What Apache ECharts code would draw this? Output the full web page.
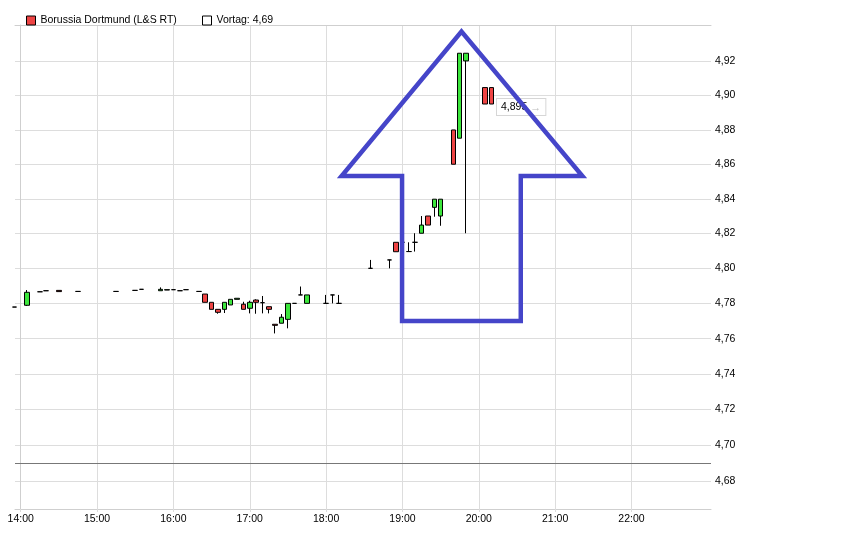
<!DOCTYPE html>
<html><head><meta charset="utf-8">
<script src="https://cdn.jsdelivr.net/npm/echarts@6/dist/echarts.min.js"></script>
<style>html,body{margin:0;padding:0;background:#fff}#c{width:842px;height:536px}</style>
</head><body><div id="c"></div>
<script>
const seriesName = 'Borussia Dortmund (L&S RT)';
const prevName = 'Vortag: 4,69';
const prevClose = 4.69;
const lastPrice = 4.895;
const times = ['13:55','14:05','14:15','14:20','14:30','14:45','15:15','15:30','15:35','15:50','15:55','16:00','16:05','16:10','16:20','16:25','16:30','16:35','16:40','16:45','16:50','16:55','17:00','17:05','17:10','17:15','17:20','17:25','17:30','17:35','17:40','17:45','18:00','18:05','18:10','18:35','18:50','18:55','19:00','19:05','19:10','19:15','19:20','19:25','19:30','19:40','19:45','19:50','20:05','20:10'];
const opens  = [4.778,4.779,4.7867,4.7873,4.7875,4.7869,4.7869,4.7875,4.7881,4.7873,4.7877,4.7879,4.7873,4.7879,4.7869,4.7854,4.7807,4.7767,4.7767,4.7792,4.7824,4.7796,4.7773,4.7820,4.7805,4.7782,4.7682,4.7688,4.7710,4.7801,4.7849,4.7801,4.7801,4.7849,4.7801,4.8001,4.8049,4.8150,4.8150,4.8097,4.8150,4.8202,4.8301,4.8351,4.8301,4.8799,4.8751,4.9202,4.9046,4.9046];
const closes = [4.778,4.7864,4.7867,4.7873,4.7868,4.7869,4.7869,4.7875,4.7881,4.7881,4.7879,4.7879,4.7873,4.7879,4.7869,4.7807,4.7767,4.7750,4.7807,4.7824,4.7830,4.7767,4.7807,4.7807,4.7805,4.7767,4.7676,4.7722,4.7801,4.7801,4.7849,4.7849,4.7801,4.7849,4.7801,4.8001,4.8049,4.8096,4.8150,4.8097,4.8150,4.8249,4.8249,4.8398,4.8398,4.8600,4.9247,4.9247,4.8950,4.8950];
const lows   = [4.778,4.7786,4.7867,4.7873,4.7868,4.7869,4.7869,4.7875,4.7881,4.7873,4.7877,4.7879,4.7873,4.7879,4.7869,4.7807,4.7767,4.7742,4.7746,4.7792,4.7824,4.7767,4.7744,4.7742,4.7744,4.7744,4.7630,4.7688,4.7659,4.7801,4.7849,4.7801,4.7801,4.7801,4.7801,4.8001,4.8001,4.8096,4.8150,4.8097,4.8097,4.8202,4.8249,4.8297,4.8245,4.8600,4.8751,4.8202,4.8950,4.8950];
const highs  = [4.778,4.7877,4.7867,4.7873,4.7875,4.7869,4.7869,4.7875,4.7881,4.7892,4.7879,4.7879,4.7873,4.7879,4.7869,4.7854,4.7807,4.7767,4.7807,4.7824,4.7830,4.7810,4.7816,4.7824,4.7843,4.7782,4.7682,4.7740,4.7801,4.7801,4.7897,4.7849,4.7849,4.7849,4.7849,4.8049,4.8049,4.8150,4.8150,4.8150,4.8202,4.8301,4.8301,4.8398,4.8398,4.8799,4.9247,4.9247,4.9046,4.9046];
const xTickLabels = ['14:00','15:00','16:00','17:00','18:00','19:00','20:00','21:00','22:00'];
const yTicks = [4.68,4.70,4.72,4.74,4.76,4.78,4.80,4.82,4.84,4.86,4.88,4.90,4.92];
// hand-drawn arrow annotation (minutes after 14:00, price)
const arrowMinutes = [346.4, 393.0, 393.0, 441.4, 346.4, 252.2, 299.7, 299.7, 346.4];
const arrowPrices  = [4.770, 4.770, 4.8532, 4.8532, 4.9375, 4.8532, 4.8532, 4.770, 4.770];

function toMin(s){ const p = s.split(':').map(Number); return (p[0]-14)*60 + p[1]; }
function fmtMin(m){ const h = 14 + Math.floor(m/60), mm = Math.round(m % 60); return h + ':' + (mm<10?'0':'') + mm; }
const FONT = 'Liberation Sans';
const candleData = times.map((t,i)=>[toMin(t), opens[i], closes[i], lows[i], highs[i]]);
const xTicks = xTickLabels.map(toMin);
const arrowData = arrowMinutes.map((m,i)=>[m, arrowPrices[i]]);

const chart = echarts.init(document.getElementById('c'), null, {renderer:'canvas'});
chart.setOption({
  animation:false,
  backgroundColor:'#fff',
  textStyle:{fontFamily:FONT},
  legend:[
    {left:21, top:10, itemWidth:9, itemHeight:9, itemGap:5, selectedMode:false,
     textStyle:{fontSize:10.5, color:'#000', fontFamily:FONT},
     data:[{name:seriesName, icon:'rect', itemStyle:{color:'#ee4444', borderColor:'#000', borderWidth:1}}]},
    {left:197, top:10, itemWidth:9, itemHeight:9, itemGap:5, selectedMode:false,
     textStyle:{fontSize:10.5, color:'#000', fontFamily:FONT},
     data:[{name:prevName, icon:'rect', itemStyle:{color:'#fff', borderColor:'#000', borderWidth:1}}]}
  ],
  grid:{left:15, right:131, top:25, bottom:27, containLabel:false},
  xAxis:[{
    type:'value', min:-4.5, max:542.5,
    axisLine:{show:true, lineStyle:{color:'#cfcfcf'}},
    axisTick:{show:true, length:3, lineStyle:{color:'#dddddd'}, customValues:xTicks},
    axisLabel:{customValues:xTicks, formatter:v=>fmtMin(v), color:'#000', fontSize:10.5, margin:5, fontFamily:FONT},
    splitLine:{show:true, lineStyle:{color:'#dddddd'}}
  },{
    type:'value', position:'top', min:-4.5, max:542.5,
    axisLine:{show:true, lineStyle:{color:'#cfcfcf'}},
    axisTick:{show:false}, axisLabel:{show:false}, splitLine:{show:false}
  }],
  yAxis:{
    type:'log', logBase:10, position:'right', min:4.6644, max:4.9413,
    axisLine:{show:true, lineStyle:{color:'#cfcfcf'}},
    axisTick:{show:false, customValues:yTicks},
    axisLabel:{customValues:yTicks, formatter:v=>v.toFixed(2).replace('.',','), color:'#000', fontSize:10.5, margin:4, fontFamily:FONT},
    splitLine:{show:true, lineStyle:{color:'#dddddd'}}
  },
  series:[
    {
      name:seriesName, type:'candlestick', data:candleData,
      encode:{x:0, y:[1,2,3,4]},
      barWidth:5, clip:true,
      itemStyle:{color:'#3ce63c', color0:'#ee4444', borderColor:'#000', borderColor0:'#000', borderColorDoji:'#000', borderWidth:1},
      markLine:{silent:true, symbol:['none','none'], label:{show:false},
        lineStyle:{color:'#777777', width:1, type:'solid'},
        data:[{yAxis:prevClose}]},
      markPoint:{silent:true, symbol:'rect', symbolSize:1, itemStyle:{color:'rgba(0,0,0,0)'},
        label:{show:true, position:'right', distance:5, offset:[0,3],
          formatter:'{v|'+lastPrice.toFixed(3).replace('.',',')+'}{a| →}',
          backgroundColor:'#fff', borderColor:'#d6d6d6', borderWidth:1, padding:[3,4,2,4],
          rich:{v:{fontSize:10.5, color:'#000', fontFamily:FONT}, a:{fontSize:11, color:'#bbbbbb', fontWeight:'bold', fontFamily:FONT}}},
        data:[{coord:[toMin(times[times.length-1]), lastPrice]}]}
    },
    {name:prevName, type:'line', data:[], symbol:'none'},
    {name:'arrow', type:'line', data:arrowData, symbol:'none', silent:true, z:10,
     lineStyle:{color:'#4545c9', width:4.5, join:'miter', cap:'butt'}}
  ]
});
</script></body></html>
